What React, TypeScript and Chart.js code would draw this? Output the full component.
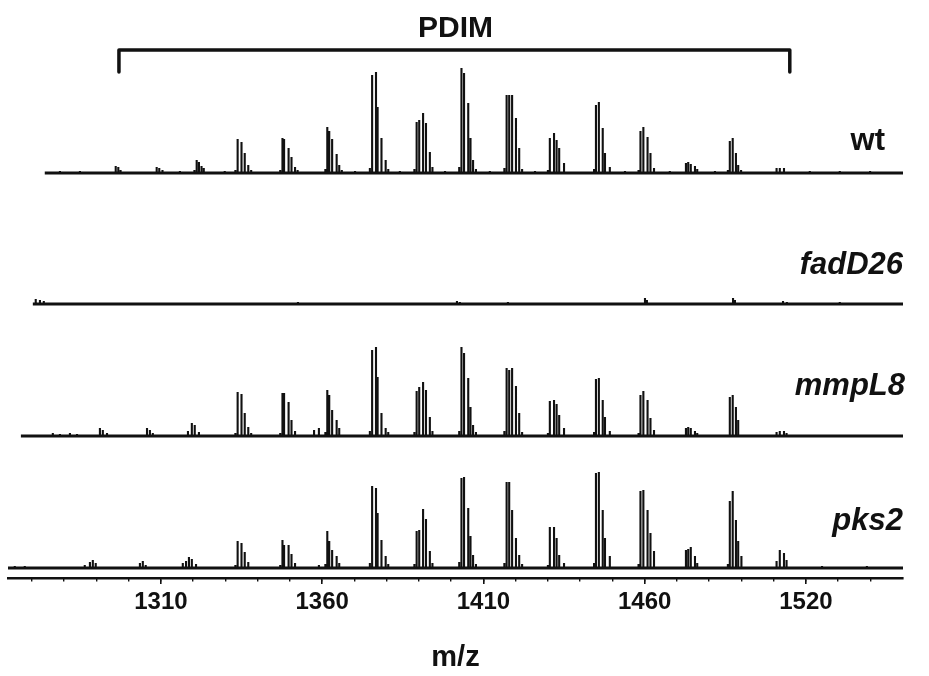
import { useEffect, useRef } from 'react';
import { Chart, registerables } from 'chart.js';

Chart.register(...registerables);

// ---------------- data ----------------
const mzMin = 1262.6;
const mzMax = 1540.1;
const tickValues = [1310, 1360, 1410, 1460, 1510];
const tickLabels = ['1310', '1360', '1410', '1460', '1520'];
const minorTickValues = [
  1270, 1280, 1290, 1300, 1310, 1320, 1330, 1340, 1350, 1360, 1370, 1380, 1390, 1400,
  1410, 1420, 1430, 1440, 1450, 1460, 1470, 1480, 1490, 1500, 1510, 1520, 1530,
];
const xTitle = 'm/z';
const chartTitle = 'PDIM';
const pdimRange = [1297.0, 1505.0];

const traceNames = ['wt', 'fadD26', 'mmpL8', 'pks2'];
const traceStartMz = [1274.0, 1270.3, 1266.6, 1262.6];

// [m/z, intensity]
const wtPeaks = [
  [1278.7, 2], [1284.9, 2],
  [1296.0, 7], [1296.8, 6], [1297.5, 3],
  [1303.5, 1],
  [1308.7, 6], [1309.5, 5], [1310.5, 3],
  [1315.9, 2],
  [1320.4, 3], [1321.1, 13], [1321.8, 11], [1322.6, 7], [1323.3, 5],
  [1329.8, 2],
  [1333.1, 3], [1333.8, 34], [1335.0, 31], [1336.0, 20], [1337.1, 8], [1338.0, 3],
  [1342.2, 1],
  [1347.0, 3], [1347.7, 35], [1348.2, 34], [1349.6, 25], [1350.5, 16], [1351.6, 6], [1352.4, 3],
  [1361.0, 4], [1361.6, 46], [1362.2, 42], [1363.1, 34], [1364.5, 19], [1365.3, 8], [1366.1, 3],
  [1370.2, 2],
  [1374.8, 5], [1375.5, 98], [1376.7, 101], [1377.2, 66], [1378.4, 35], [1379.7, 13], [1380.5, 4],
  [1384.1, 2],
  [1388.6, 4], [1389.3, 51], [1390.1, 53], [1391.3, 60], [1392.2, 50], [1393.4, 21], [1394.2, 6],
  [1398.1, 2],
  [1402.5, 6], [1403.2, 105], [1404.0, 100], [1405.3, 70], [1406.0, 35], [1406.8, 13], [1407.7, 4],
  [1412.0, 2],
  [1416.5, 5], [1417.2, 78], [1418.0, 78], [1418.9, 78], [1420.1, 55], [1421.1, 25], [1422.0, 4],
  [1426.0, 2],
  [1430.0, 3], [1430.6, 35], [1431.9, 40], [1432.7, 33], [1433.5, 25], [1435.0, 10],
  [1439.9, 1],
  [1444.3, 4], [1444.9, 68], [1445.8, 71], [1447.0, 45], [1447.7, 20], [1449.2, 6],
  [1453.9, 2],
  [1458.1, 3], [1458.7, 42], [1459.6, 46], [1460.9, 36], [1461.8, 20], [1462.9, 5],
  [1467.8, 2],
  [1472.8, 10], [1473.5, 11], [1474.3, 9], [1475.6, 7], [1476.3, 4],
  [1481.8, 2],
  [1485.8, 3], [1486.4, 32], [1487.3, 35], [1488.3, 20], [1489.0, 8], [1489.9, 3],
  [1495.7, 1],
  [1500.9, 5], [1501.9, 5], [1503.2, 5],
  [1511.2, 2], [1520.5, 2], [1529.9, 2], [1536.1, 1],
];

const fadD26Peaks = [
  [1271.2, 5], [1272.5, 4], [1273.7, 3],
  [1284.9, 1], [1303.5, 1], [1329.8, 1],
  [1352.5, 2], [1370.2, 1], [1384.1, 1],
  [1401.8, 3], [1402.7, 2],
  [1417.6, 2], [1426.0, 1], [1439.9, 1],
  [1460.1, 6], [1460.7, 4],
  [1467.8, 1], [1481.8, 1],
  [1487.4, 6], [1488.0, 4],
  [1502.9, 3], [1504.1, 2],
  [1511.2, 1], [1520.5, 2], [1529.9, 1],
];

const mmpL8Peaks = [
  [1276.5, 3], [1278.7, 2], [1281.8, 3], [1284.0, 2],
  [1291.1, 8], [1292.0, 6], [1293.3, 3],
  [1305.7, 8], [1306.6, 6], [1307.5, 3],
  [1318.4, 5], [1319.6, 13], [1320.5, 11], [1321.8, 4],
  [1333.1, 3], [1333.8, 44], [1335.0, 42], [1336.0, 23], [1337.1, 9], [1338.0, 3],
  [1347.0, 3], [1347.7, 43], [1348.2, 43], [1349.6, 34], [1350.5, 16], [1351.6, 5],
  [1357.5, 6], [1359.0, 8],
  [1361.0, 4], [1361.6, 46], [1362.2, 41], [1363.1, 26], [1364.5, 16], [1365.3, 8],
  [1374.8, 5], [1375.5, 86], [1376.7, 89], [1377.2, 59], [1378.4, 23], [1379.7, 8], [1380.5, 4],
  [1388.6, 4], [1389.3, 45], [1390.1, 49], [1391.3, 54], [1392.2, 46], [1393.4, 19], [1394.2, 5],
  [1402.5, 5], [1403.2, 89], [1404.0, 83], [1405.3, 58], [1406.0, 29], [1406.8, 11], [1407.7, 4],
  [1416.5, 5], [1417.2, 68], [1418.0, 66], [1418.9, 68], [1420.1, 50], [1421.1, 23], [1422.0, 4],
  [1430.0, 3], [1430.6, 35], [1431.9, 36], [1432.7, 32], [1433.5, 21], [1435.0, 8],
  [1444.3, 4], [1444.9, 57], [1445.8, 58], [1447.0, 36], [1447.7, 19], [1449.2, 5],
  [1458.1, 3], [1458.7, 41], [1459.6, 45], [1460.9, 36], [1461.8, 18], [1462.9, 6],
  [1472.8, 8], [1473.5, 9], [1474.3, 8], [1475.6, 5], [1476.3, 3],
  [1486.4, 39], [1487.3, 41], [1488.3, 29], [1489.0, 16],
  [1500.9, 4], [1501.9, 5], [1503.2, 5], [1504.0, 3],
  [1515.0, 1], [1529.9, 1],
];

const pks2Peaks = [
  [1264.7, 2], [1267.8, 2], [1270.9, 1],
  [1278.7, 1],
  [1286.4, 3], [1288.0, 6], [1288.9, 8], [1289.8, 5],
  [1296.0, 1],
  [1303.5, 5], [1304.4, 7], [1305.3, 3],
  [1316.8, 5], [1317.8, 7], [1318.7, 11], [1319.6, 9], [1320.9, 4],
  [1329.8, 1],
  [1333.1, 3], [1333.8, 27], [1335.0, 25], [1336.0, 16], [1337.1, 6],
  [1347.0, 3], [1347.7, 28], [1348.2, 23], [1349.6, 23], [1350.5, 14], [1351.6, 5],
  [1359.0, 3],
  [1361.0, 4], [1361.6, 37], [1362.2, 27], [1363.1, 18], [1364.5, 12], [1365.3, 5],
  [1374.8, 5], [1375.5, 82], [1376.7, 80], [1377.2, 55], [1378.4, 28], [1379.7, 12], [1380.5, 4],
  [1388.6, 4], [1389.3, 37], [1390.1, 38], [1391.3, 59], [1392.2, 49], [1393.4, 17], [1394.2, 5],
  [1402.5, 6], [1403.2, 90], [1404.0, 91], [1405.3, 60], [1406.0, 32], [1406.8, 13], [1407.7, 4],
  [1416.5, 5], [1417.2, 86], [1418.0, 86], [1418.9, 58], [1420.1, 30], [1421.1, 13], [1422.0, 4],
  [1430.0, 3], [1430.6, 41], [1431.9, 41], [1432.7, 30], [1433.5, 13], [1435.0, 5],
  [1444.3, 5], [1444.9, 95], [1445.8, 96], [1447.0, 58], [1447.7, 30], [1449.2, 12],
  [1458.1, 4], [1458.7, 77], [1459.6, 78], [1460.9, 58], [1461.8, 35], [1462.9, 17],
  [1472.8, 18], [1473.5, 19], [1474.3, 21], [1475.6, 12], [1476.3, 5],
  [1485.8, 4], [1486.4, 67], [1487.3, 77], [1488.3, 48], [1489.0, 27], [1490.0, 12],
  [1500.9, 7], [1501.9, 18], [1503.2, 15], [1504.0, 8],
  [1515.0, 2], [1528.9, 2],
];

const tracePeaks = [wtPeaks, fadD26Peaks, mmpL8Peaks, pks2Peaks];

// ---------------- layout / style ----------------
const INK = '#111111';
const FONT = '"Liberation Sans", Arial, Helvetica, sans-serif';
const TRACE_OFFSETS = [395, 264, 132, 0];
const BRACKET_TOP = 518;
const BRACKET_DROP = 22;
const LABEL_RAISE = [23, 30, 41, 38];
const LABEL_RIGHT_INSET = [18, 0, -2, 0];

const seriesLabelPlugin = {
  id: 'seriesLabels',
  afterDatasetsDraw(chart: any) {
    const { ctx, chartArea, scales } = chart;
    const y = scales.y;
    ctx.save();
    ctx.fillStyle = INK;
    ctx.textAlign = 'right';
    ctx.textBaseline = 'alphabetic';
    traceNames.forEach((name, i) => {
      ctx.font = `${i === 0 ? '' : 'italic '}bold 31px ${FONT}`;
      ctx.fillText(
        name,
        chartArea.right - LABEL_RIGHT_INSET[i],
        y.getPixelForValue(TRACE_OFFSETS[i] + LABEL_RAISE[i])
      );
    });
    ctx.restore();
  },
};

export default function App() {
  const ref = useRef<HTMLCanvasElement | null>(null);

  useEffect(() => {
    if (!ref.current) return;
    const datasets: any[] = [];
    tracePeaks.forEach((peaks, i) => {
      const base = TRACE_OFFSETS[i];
      datasets.push({
        label: traceNames[i] + ' baseline',
        data: [
          { x: traceStartMz[i], y: base },
          { x: mzMax, y: base },
        ],
        borderColor: INK,
        borderWidth: 2.8,
        pointRadius: 0,
        xAxisID: 'x',
        yAxisID: 'y',
      });
      const pts: { x: number; y: number }[] = [];
      peaks.forEach(([m, h]) => {
        pts.push({ x: m, y: base }, { x: m, y: base + h }, { x: m, y: base });
      });
      datasets.push({
        label: traceNames[i],
        data: pts,
        borderColor: INK,
        borderWidth: 2.1,
        pointRadius: 0,
        tension: 0,
        xAxisID: 'x',
        yAxisID: 'y',
      });
    });
    datasets.push({
      label: chartTitle + ' range',
      data: [
        { x: pdimRange[0], y: BRACKET_TOP - BRACKET_DROP },
        { x: pdimRange[0], y: BRACKET_TOP },
        { x: pdimRange[1], y: BRACKET_TOP },
        { x: pdimRange[1], y: BRACKET_TOP - BRACKET_DROP },
      ],
      borderColor: INK,
      borderWidth: 3.5,
      borderJoinStyle: 'round',
      borderCapStyle: 'round',
      pointRadius: 0,
      clip: false,
      xAxisID: 'x',
      yAxisID: 'y',
    });

    Chart.defaults.font.family = FONT;

    const chart = new Chart(ref.current, {
      type: 'line',
      data: { datasets },
      plugins: [seriesLabelPlugin],
      options: {
        animation: false,
        responsive: false,
        events: [],
        layout: { padding: { left: 8, right: 26, top: 0, bottom: 0 } },
        plugins: {
          legend: { display: false },
          tooltip: { enabled: false },
          title: {
            display: true,
            text: chartTitle,
            fullSize: false,
            color: INK,
            font: { family: FONT, size: 30, weight: 'bold' },
            padding: { top: 11, bottom: 0 },
          },
        },
        scales: {
          x: {
            type: 'linear',
            position: 'bottom',
            min: mzMin,
            max: mzMax,
            afterBuildTicks: (s: any) => {
              s.ticks = tickValues.map((v) => ({ value: v }));
            },
            ticks: {
              autoSkip: false,
              maxRotation: 0,
              padding: 4,
              color: INK,
              font: { family: FONT, size: 24, weight: 'bold' },
              callback: (_v: any, i: number) => tickLabels[i],
            },
            grid: {
              display: true,
              drawOnChartArea: false,
              drawTicks: true,
              tickLength: 6,
              lineWidth: 1.6,
              tickWidth: 1.6,
              color: INK,
            },
            border: { display: true, color: INK, width: 2.5 },
            title: {
              display: true,
              text: xTitle,
              color: INK,
              font: { family: FONT, size: 29, weight: 'bold' },
              padding: { top: 19.4, bottom: 1 },
            },
          },
          x2: {
            type: 'linear',
            axis: 'x',
            position: { y: -10 },
            min: mzMin,
            max: mzMax,
            afterBuildTicks: (s: any) => {
              s.ticks = minorTickValues.map((v) => ({ value: v }));
            },
            ticks: { display: false },
            grid: {
              display: true,
              drawOnChartArea: false,
              drawTicks: true,
              tickLength: 3.5,
              lineWidth: 1.4,
              tickWidth: 1.4,
              color: INK,
            },
            border: { display: false },
          },
          y: { type: 'linear', display: false, min: -10, max: 521 },
        },
      } as any,
    });
    return () => chart.destroy();
  }, []);

  return (
    <div style={{ position: 'fixed', left: 0, top: 0, width: 929, height: 676, background: '#fff' }}>
      <canvas ref={ref} width={929} height={676} />
    </div>
  );
}
